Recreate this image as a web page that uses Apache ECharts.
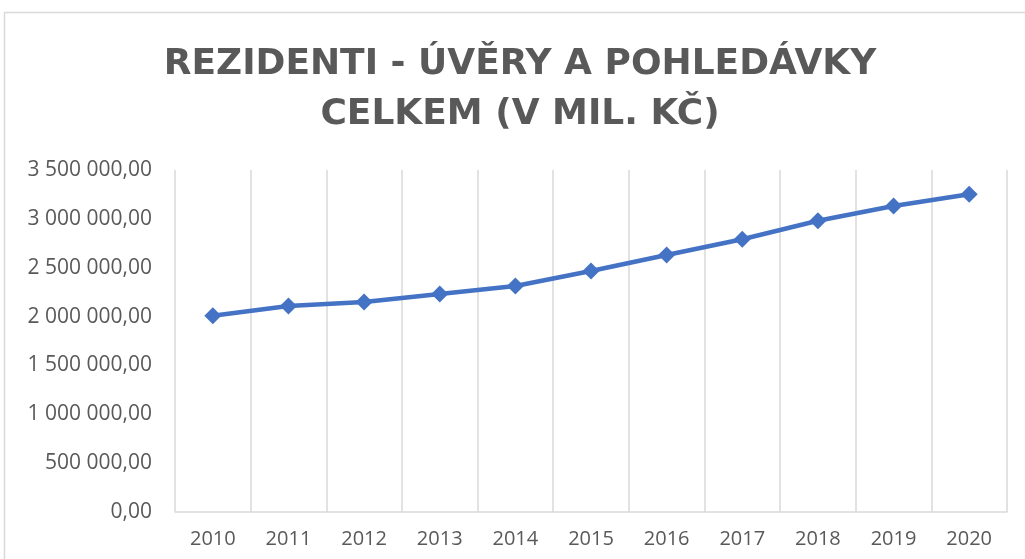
<!DOCTYPE html>
<html>
<head>
<meta charset="utf-8">
<script src="https://cdn.jsdelivr.net/npm/echarts@6/dist/echarts.min.js"></script>
<style>
  html, body { margin: 0; padding: 0; background: #fff; }
  #chart { width: 1025px; height: 559px; }
</style>
</head>
<body>
<div id="chart"></div>
<script>
const years = ['2010', '2011', '2012', '2013', '2014', '2015', '2016', '2017', '2018', '2019', '2020']
const totals = [2009000, 2108000, 2149000, 2231000, 2313000, 2466000, 2630000, 2791000, 2981000, 3132000, 3251000]
const titleText = 'REZIDENTI - ÚVĚRY A POHLEDÁVKY\nCELKEM (V MIL. KČ)'

function czNumber(v) {
  const s = Math.round(v).toString().replace(/\B(?=(\d{3})+(?!\d))/g, ' ')
  return s + ',00'
}

const chart = echarts.init(document.getElementById('chart'))
chart.setOption({
  backgroundColor: '#fff',
  animation: false,
  graphic: [
    {
      type: 'rect',
      shape: { x: 4.5, y: 12.5, width: 1040, height: 560 },
      style: { fill: 'none', stroke: '#d9d9d9', lineWidth: 1.5 },
      silent: true
    },
    {
      // title, centred on the chart area (which runs past the right edge)
      type: 'text',
      x: 520,
      y: 40,
      silent: true,
      style: {
        text: titleText,
        fontFamily: 'DejaVu Sans',
        fontWeight: 'bold',
        fontSize: 36,
        lineHeight: 50,
        fill: '#595959',
        align: 'center',
        verticalAlign: 'top'
      }
    }
  ],
  grid: {
    left: 175,
    right: 18,
    top: 170,
    bottom: 47
  },
  xAxis: {
    type: 'category',
    data: years,
    boundaryGap: true,
    axisTick: { show: false },
    axisLine: { lineStyle: { color: '#d9d9d9', width: 1.5 } },
    splitLine: { show: true, lineStyle: { color: '#d9d9d9', width: 1.5 } },
    axisLabel: {
      fontFamily: 'Open Sans',
      fontSize: 20,
      color: '#595959',
      margin: 17
    }
  },
  yAxis: {
    type: 'value',
    min: 0,
    max: 3500000,
    interval: 500000,
    axisLine: { show: false },
    axisTick: { show: false },
    splitLine: { show: false },
    axisLabel: {
      fontFamily: 'Open Sans',
      fontSize: 21,
      color: '#595959',
      margin: 23,
      formatter: czNumber
    }
  },
  series: [
    {
      type: 'line',
      data: totals,
      symbol: 'diamond',
      symbolSize: [17, 17],
      lineStyle: { color: '#4472C4', width: 4.5 },
      itemStyle: { color: '#4472C4' }
    }
  ]
})
</script>
</body>
</html>
